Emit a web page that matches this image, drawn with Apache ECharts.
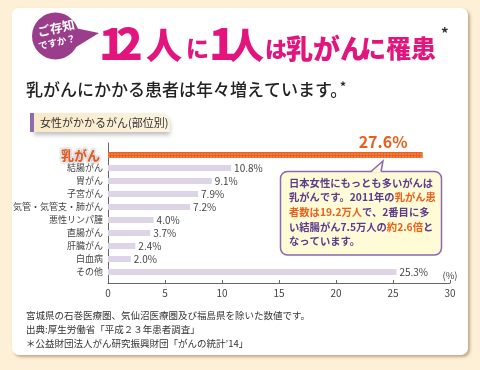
<!DOCTYPE html>
<html><head><meta charset="utf-8">
<script src="https://cdn.jsdelivr.net/npm/echarts@6/dist/echarts.min.js"></script>
<style>html,body{margin:0;padding:0;background:#fdf0d6;}#c{width:480px;height:370px;}</style>
</head><body><div id="c"></div>
<script>
const categories = ['乳がん','結腸がん','胃がん','子宮がん','気管・気管支・肺がん','悪性リンパ腫','直腸がん','肝臓がん','白血病','その他'];
const values = [27.6,10.8,9.1,7.9,7.2,4.0,3.7,2.4,2.0,25.3];
const xMin = 0, xMax = 30, xInterval = 5;
const axisUnit = '(%)';

const F = '"Noto Sans CJK JP","Noto Sans",sans-serif';
const PINK = '#e2157f', ORANGE = '#e8601c', PURPLE = '#5b3b8c';

const chart = echarts.init(document.getElementById('c'), null, {renderer:'canvas'});

function t(x, y, text, size, color, weight, extra) {
  return Object.assign({type:'text', x:x, y:y, style:Object.assign({text:text, fontSize:size, fontFamily:F, fontWeight:weight||'normal', fill:color, verticalAlign:'bottom', align:'left'}, extra||{})});
}

const graphics = [
  {type:'rect', z:-20, shape:{x:12,y:8,width:456,height:347,r:7}, style:{fill:'#fff', shadowColor:'rgba(140,110,70,0.55)', shadowBlur:3, shadowOffsetX:2, shadowOffsetY:2}},
  // badge
  {type:'polygon', z:-5, shape:{points:[[70,27],[99,33],[68,52]]}, style:{fill:'#9a3e8c'}},
  {type:'circle', z:-5, shape:{cx:55.5,cy:36,r:23.5}, style:{fill:'#9a3e8c'}},
  {type:'text', x:56, y:28, rotation:0.22, style:{text:'ご存知', fontSize:12.5, fontWeight:'bold', fontFamily:F, fill:'#fff', align:'center', verticalAlign:'middle'}},
  {type:'text', x:57, y:42, rotation:0.22, style:{text:'ですか？', fontSize:9.5, fontWeight:'bold', fontFamily:F, fill:'#fff', align:'center', verticalAlign:'middle'}},
  // title
  t(99, 65, '1', 44, PINK, 900),
  t(116, 65, '2', 44, PINK, 900),
  t(146, 63, '人', 36, PINK, 900),
  t(186, 60, 'に', 23, PINK, 900),
  t(209, 65, '1', 44, PINK, 900),
  t(228, 63, '人', 36, PINK, 900),
  t(265, 60, 'は', 22, PINK, 900),
  t(286, 62, '乳がん', 27, PINK, 900),
  t(361, 61, 'に罹患', 25, PINK, 900),
  t(441, 41, '*', 15, '#333', 'bold'),
  // subtitle
  t(26, 98, '乳がんにかかる患者は年々増えています。', 17, '#222', 500),
  t(340, 92, '*', 12, '#222', 'bold'),
  // section tab
  {type:'rect', z:-4, shape:{x:34,y:113,width:136,height:19,r:[0,9,0,0]}, style:{fill:new echarts.graphic.LinearGradient(0,0,1,0,[{offset:0,color:'#f8e9c8'},{offset:1,color:'#fcf3df'}]), shadowColor:'rgba(0,0,0,0.25)', shadowBlur:4, shadowOffsetY:3}},
  {type:'rect', z:-3, shape:{x:30,y:113,width:4,height:19}, style:{fill:'#8d6bb0'}},
  {type:'text', x:40, y:122.5, style:{text:'女性がかかるがん(部位別)', fontSize:11, fontFamily:F, fill:'#333', verticalAlign:'middle'}},
  // callout
  {type:'rect', z:100, shape:{x:280.5,y:171.5,width:161,height:83.5,r:7}, style:{fill:'#fffbd7', stroke:'#8b68b0', lineWidth:1.5}},
  {type:'polygon', z:101, shape:{points:[[371,172.5],[383,161],[381,172.5]]}, style:{fill:'#fffbd7'}},
  {type:'polyline', z:101, shape:{points:[[371,171.5],[383,161],[381,171.5]]}, style:{stroke:'#8b68b0', lineWidth:1.5, fill:null}},
  {type:'text', z:102, x:289, y:175.3, style:{text:'日本女性にもっとも多いがんは\n乳がんです。2011年の{o|乳がん患}\n{o|者数は19.2万人}で、2番目に多\nい結腸がん7.5万人の{o|約2.6倍}と\nなっています。', fontSize:10.3, fontWeight:'bold', fontFamily:F, fill:PURPLE, lineHeight:14.7, verticalAlign:'top', rich:{o:{fill:ORANGE, fontSize:10.3, fontWeight:'bold', fontFamily:F, lineHeight:14.7}}}},
  // footer
  {type:'text', x:26, y:308, style:{text:'宮城県の石巻医療圏、気仙沼医療圏及び福島県を除いた数値です。\n出典:厚生労働省「平成２３年患者調査」\n＊公益財団法人がん研究振興財団「がんの統計’14」', fontSize:9.5, fontFamily:F, fill:'#333', lineHeight:14, verticalAlign:'top'}}
];

const data = values.map(function(v, i){
  if (i === 0) {
    return {value:v,
      itemStyle:{color:'#e9621f', decal:{symbol:'circle', symbolSize:0.7, color:'rgba(255,200,160,0.75)', dashArrayX:[2,1], dashArrayY:[2,1]}},
      label:{show:true, position:'right', offset:[-67,-13], fontSize:16, fontWeight:'bold', color:ORANGE, fontFamily:F}};
  }
  return v;
});

chart.setOption({
  animation:false,
  backgroundColor:'#fdf0d6',
  graphic:graphics,
  grid:[
    {left:108, top:143, width:342, height:140},
    {left:108, top:148.5, width:342, height:130}
  ],
  xAxis:[
    {gridIndex:0, type:'value', min:xMin, max:xMax, interval:xInterval,
     axisLine:{show:true, lineStyle:{color:'#666', width:1}},
     axisTick:{show:true, inside:true, length:3, lineStyle:{color:'#666'}},
     axisLabel:{fontSize:10, color:'#444', margin:5, fontFamily:F},
     splitLine:{show:false},
     name:axisUnit, nameLocation:'end', nameGap:0,
     nameTextStyle:{fontSize:9.5, color:'#444', align:'center', verticalAlign:'bottom', padding:[0,0,3,0], fontFamily:F}},
    {gridIndex:1, type:'value', min:xMin, max:xMax, show:false}
  ],
  yAxis:[
    {gridIndex:0, type:'value', min:0, max:1, axisLine:{show:true, lineStyle:{color:'#666', width:1}}, axisTick:{show:false}, axisLabel:{show:false}, splitLine:{show:false}},
    {gridIndex:1, type:'category', inverse:true, data:categories,
     axisLine:{show:false}, axisTick:{show:false},
     axisLabel:{fontSize:9, color:'#444', margin:5, fontFamily:F,
       formatter:function(v, i){ return i === 0 ? '{hl|' + v + '}' : v; },
       rich:{hl:{fontSize:13, fontWeight:'bold', color:'#e8561b', fontFamily:F, textBorderColor:'#fff', textBorderWidth:2, textShadowColor:'rgba(0,0,0,0.35)', textShadowBlur:2, padding:[0,3,0,0]}}}}
  ],
  series:[{
    type:'bar', xAxisIndex:1, yAxisIndex:1, data:data, barWidth:6,
    itemStyle:{color:'#ddd5e7'},
    label:{show:true, position:'right', distance:3, fontSize:10, color:'#444', fontFamily:F,
      formatter:function(p){ return p.value.toFixed(1) + '%'; }}
  }]
});
</script></body></html>
